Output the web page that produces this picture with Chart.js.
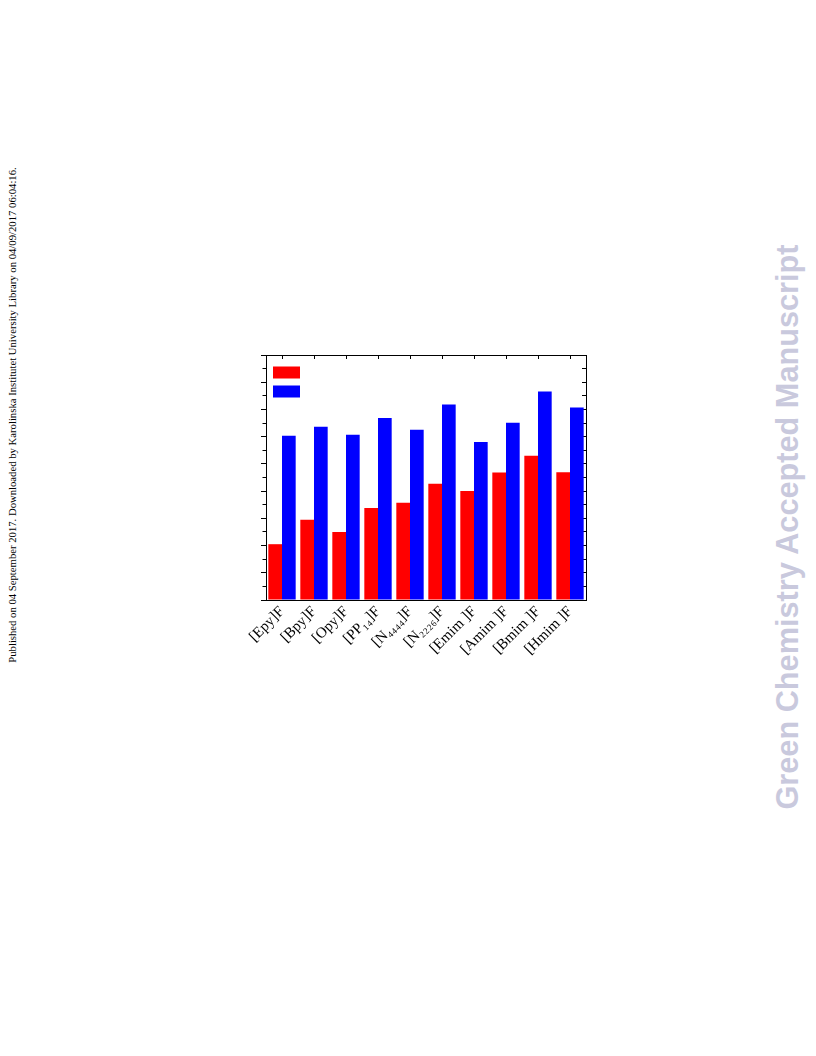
<!DOCTYPE html>
<html>
<head>
<meta charset="utf-8">
<script src="https://cdn.jsdelivr.net/npm/chart.js@4.4.0/dist/chart.umd.min.js"></script>
<style>
  html, body { margin: 0; padding: 0; background: #fff; }
  body { width: 816px; height: 1056px; position: relative; overflow: hidden; }
  #chart { position: absolute; left: 0; top: 0; }
  .side { position: absolute; white-space: nowrap; transform: translate(-50%, -50%) rotate(-90deg); }
  #published { left: 12px; top: 415px; font: 10.7px "Liberation Serif", serif; color: #000; }
  #watermark { left: 788px; top: 527px; font: bold 30.7px "Liberation Sans", Arial, sans-serif; color: #c9c9dd; }
</style>
</head>
<body>
<div id="published" class="side">Published on 04 September 2017. Downloaded by Karolinska Institutet University Library on 04/09/2017 06:04:16.</div>
<div id="watermark" class="side">Green Chemistry Accepted Manuscript</div>
<canvas id="chart" width="816" height="1056"></canvas>
<script>
// Data
const categories = ['[Epy]F', '[Bpy]F', '[Opy]F', '[PP\u2081\u2084]F', '[N\u2084\u2084\u2084\u2084]F',
    '[N\u2082\u2082\u2082\u2086]F', '[Emim ]F', '[Amim ]F', '[Bmim ]F', '[Hmim ]F'];
const redValues = [2.05, 2.95, 2.50, 3.38, 3.57, 4.27, 4.00, 4.68, 5.30, 4.69];
const blueValues = [6.03, 6.36, 6.07, 6.69, 6.25, 7.18, 5.80, 6.51, 7.66, 7.07];
const yMin = 0;
const yMax = 9;

// legend boxes drawn inside the plot, no text
const boxLegend = {
    id: 'boxLegend',
    afterDraw(chart) {
        const ctx = chart.ctx;
        const area = chart.chartArea;
        chart.data.datasets.forEach((ds, i) => {
            ctx.save();
            ctx.fillStyle = ds.backgroundColor;
            ctx.fillRect(area.left + 7, area.top + 11.5 + i * 19, 27, 12);
            ctx.restore();
        });
    }
};

function fixSize(w, h) {
    return function(scale) {
        if (w !== null) scale.width = w;
        if (h !== null) scale.height = h;
    };
}

const minorDash = (ctx) => (ctx.tick && Math.abs(ctx.tick.value % 1) > 0.01) ? [0, 1.5, 3.5, 10] : [];

new Chart(document.getElementById('chart'), {
    type: 'bar',
    data: {
        labels: categories,
        datasets: [{
            data: redValues,
            backgroundColor: '#ff0000',
            borderWidth: 0
        }, {
            data: blueValues,
            backgroundColor: '#0000ff',
            borderWidth: 0
        }]
    },
    options: {
        responsive: false,
        animation: false,
        devicePixelRatio: 1,
        categoryPercentage: 0.855,
        barPercentage: 1.0,
        layout: {
            padding: { left: 256, top: 355, right: 230, bottom: 376 }
        },
        plugins: {
            legend: { display: false },
            tooltip: { enabled: false }
        },
        scales: {
            x: {
                position: 'bottom',
                grid: { drawOnChartArea: false, drawTicks: false },
                border: { display: true, color: '#000', width: 1 },
                ticks: {
                    autoSkip: false,
                    maxRotation: 45,
                    minRotation: 45,
                    padding: 3,
                    color: '#000',
                    font: { family: '"Liberation Serif", "Times New Roman", serif', size: 15 }
                },
                afterFit: fixSize(null, 80)
            },
            xTop: {
                type: 'category',
                position: 'top',
                labels: categories,
                offset: true,
                grid: { drawOnChartArea: false, drawTicks: true, tickLength: -4, color: '#000', offset: false },
                border: { display: true, color: '#000', width: 1 },
                ticks: { display: false },
                afterFit: fixSize(null, 0)
            },
            y: {
                position: 'left',
                min: yMin,
                max: yMax,
                grid: {
                    drawOnChartArea: false,
                    drawTicks: true,
                    tickLength: 5,
                    tickColor: '#000',
                    tickBorderDash: minorDash
                },
                border: { display: true, color: '#000', width: 1 },
                ticks: { display: false, stepSize: 0.5 },
                afterFit: fixSize(10, null)
            },
            yRight: {
                type: 'linear',
                position: 'right',
                min: yMin,
                max: yMax,
                grid: { drawOnChartArea: false, drawTicks: true, tickLength: -4, tickColor: '#000' },
                border: { display: true, color: '#000', width: 1 },
                ticks: { display: false, stepSize: 0.5 },
                afterFit: fixSize(0, null)
            }
        }
    },
    plugins: [boxLegend]
});
</script>
</body>
</html>
